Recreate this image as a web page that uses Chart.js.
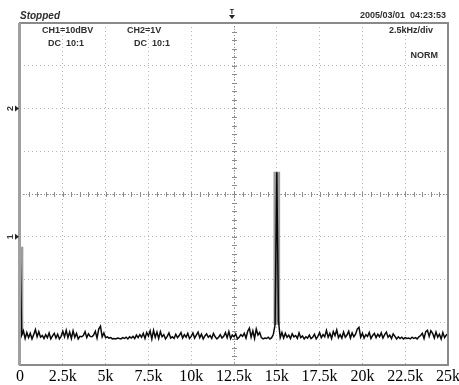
<!DOCTYPE html>
<html>
<head>
<meta charset="utf-8">
<script src="https://cdn.jsdelivr.net/npm/chart.js@4/dist/chart.umd.min.js"></script>
<style>
  html, body { margin: 0; padding: 0; background: #fff; }
  #wrap { width: 459px; height: 385px; position: relative; }
</style>
</head>
<body>
<div id="wrap"><canvas id="c" width="459" height="385"></canvas></div>
<script>
// FFT of CH1, 100 Hz per bin, level in dBV (10 dB per division)
const BIN_HZ = 100;
const spectrumDb = [
  -2.4,
  -23.0, -22.0, -23.8, -22.4, -23.6, -22.6, -23.9, -22.9, -21.7, -23.4,
  -22.2, -23.5, -23.1, -23.8, -22.9, -23.6, -22.5, -23.9, -23.2, -22.6,
  -23.7, -22.8, -23.9, -23.3, -22.1, -23.4, -21.9, -23.6, -22.3, -23.8,
  -22.0, -23.5, -22.6, -23.9, -23.3, -23.4, -23.1, -22.2, -23.6, -22.7,
  -23.3, -23.4, -23.0, -22.1, -23.7, -21.6, -20.9, -23.4, -22.5, -23.6,
  -23.4, -23.7, -23.6, -23.9, -23.8, -23.9, -23.7, -23.8, -23.9, -23.6,
  -23.8, -23.5, -23.9, -23.4, -23.7, -23.3, -23.8, -23.0, -23.6, -22.9,
  -23.5, -22.6, -23.8, -22.4, -23.2, -22.0, -23.9, -21.9, -23.5, -22.3,
  -23.8, -22.2, -23.4, -22.9, -23.9, -23.3, -22.5, -23.7, -23.4, -23.8,
  -22.8, -23.6, -23.1, -22.4, -23.7, -22.9, -23.5, -22.6, -23.8, -23.3,
  -22.5, -23.7, -23.0, -22.3, -23.6, -22.8, -23.9, -23.2, -22.7, -23.5,
  -23.1, -23.8, -22.6, -23.4, -23.9, -23.5, -22.9, -23.7, -23.3, -22.4,
  -23.6, -22.2, -23.8, -23.0, -23.4, -22.7, -23.9, -23.5, -22.9, -23.3,
  -22.6, -23.7, -22.1, -21.4, -23.5, -22.0, -23.8, -21.6, -23.0, -22.4,
  -23.6, -23.9, -23.7, -23.8, -23.5, -23.9, -23.6, -22.8, -20.5, 15.1,
  -19.8, -23.6, -22.4, -23.7, -22.6, -23.5, -23.0, -23.8, -22.7, -23.4,
  -23.1, -23.8, -22.5, -23.6, -23.2, -23.9, -23.4, -23.7, -23.0, -23.8,
  -23.5, -22.8, -23.9, -23.3, -22.4, -23.6, -22.9, -23.4, -21.9, -23.5,
  -22.6, -23.8, -22.2, -23.1, -21.8, -23.6, -22.9, -23.7, -22.3, -23.5,
  -23.0, -22.1, -23.7, -22.5, -23.4, -22.8, -21.6, -21.2, -23.5, -22.6,
  -23.7, -22.9, -23.3, -22.4, -23.8, -23.1, -22.6, -23.6, -22.8, -23.4,
  -22.5, -23.7, -22.9, -22.3, -23.5, -23.0, -23.8, -22.7, -23.3, -23.9,
  -23.4, -23.8, -23.5, -23.9, -23.6, -23.8, -23.7, -23.9, -23.5, -23.8,
  -23.6, -23.9, -23.4, -23.1, -22.6, -23.8, -22.2, -21.9, -23.3, -22.0,
  -22.6, -23.7, -22.3, -23.5, -22.8, -23.9, -22.4, -23.6, -23.0, -22.7
];

// The two tones: DC and 15 kHz (top level and the floor they rise from)
const toneFreqs = [0, 15000];
const toneTopDb = [-2.4, 15.1];
const toneBaseDb = [-23.0, -20.5];

// Horizontal axis: 2.5 kHz per division
const freqTicks = [0, 2500, 5000, 7500, 10000, 12500, 15000, 17500, 20000, 22500, 25000];
const freqTickLabels = ['0', '2.5k', '5k', '7.5k', '10k', '12.5k', '15k', '17.5k', '20k', '22.5k', '25k'];

// Vertical axis: 8 divisions of 10 dB
const levelMin = -30;
const levelMax = 50;
const levelStep = 10;

const traceData = spectrumDb.map((db, i) => ({ x: i * BIN_HZ, y: db }));
const toneData = toneFreqs.map((f, i) => ({ x: f, y: [toneBaseDb[i], toneTopDb[i]] }));

const SANS = '"Liberation Sans", Arial, sans-serif';

// Scope graticule: frame, centre axes with minor ticks, readouts and markers
const scopeScreen = {
  id: 'scopeScreen',
  beforeDatasetsDraw(chart) {
    const { ctx, chartArea: a, scales: { x, y } } = chart;
    const cx = x.getPixelForValue(12500);
    const cy = y.getPixelForValue(10);
    const divX = x.getPixelForValue(2500) - x.getPixelForValue(0);
    const divY = y.getPixelForValue(0) - y.getPixelForValue(10);
    ctx.save();
    ctx.strokeStyle = '#8c8c8c';
    ctx.lineWidth = 1;
    ctx.setLineDash([1, 2]);
    ctx.beginPath();
    ctx.moveTo(a.left, Math.round(cy) + 0.5); ctx.lineTo(a.right, Math.round(cy) + 0.5);
    ctx.moveTo(Math.round(cx) + 0.5, a.top); ctx.lineTo(Math.round(cx) + 0.5, a.bottom);
    ctx.stroke();
    ctx.setLineDash([]);
    ctx.beginPath();
    for (let px = a.left; px <= a.right + 0.5; px += divX / 5) {
      const rx = Math.round(px) + 0.5;
      ctx.moveTo(rx, Math.round(cy) - 2); ctx.lineTo(rx, Math.round(cy) + 3);
    }
    for (let py = a.top; py <= a.bottom + 0.5; py += divY / 5) {
      const ry = Math.round(py) + 0.5;
      ctx.moveTo(Math.round(cx) - 2, ry); ctx.lineTo(Math.round(cx) + 3, ry);
    }
    ctx.stroke();
    ctx.restore();
  },
  afterDraw(chart) {
    const { ctx, chartArea: a, scales: { y } } = chart;
    ctx.save();
    // frame
    ctx.strokeStyle = '#8a8a8a';
    ctx.lineWidth = 2;
    ctx.strokeRect(a.left, a.top, a.right - a.left, a.bottom - a.top);
    ctx.fillStyle = '#a0a0a0';
    ctx.fillRect(a.left - 2, a.top, 3, a.bottom - a.top);

    // readouts
    ctx.fillStyle = '#2e2e2e';
    ctx.textBaseline = 'middle';
    ctx.font = 'italic bold 10px ' + SANS;
    ctx.textAlign = 'left';
    ctx.fillText('Stopped', 20, 16);
    ctx.font = 'bold 9px ' + SANS;
    ctx.fillText('CH1=10dBV', 42, 31);
    ctx.fillText('DC  10:1', 48, 44);
    ctx.fillText('CH2=1V', 127, 31);
    ctx.fillText('DC  10:1', 134, 44);
    ctx.textAlign = 'right';
    ctx.fillText('2005/03/01  04:23:53', 446, 16);
    ctx.fillText('2.5kHz/div', 433, 31);
    ctx.fillText('NORM', 438, 56);

    // channel reference markers on the left edge
    const drawMarker = (label, level) => {
      const my = y.getPixelForValue(level);
      ctx.save();
      ctx.translate(11, my);
      ctx.rotate(-Math.PI / 2);
      ctx.textAlign = 'center';
      ctx.font = 'bold 9px ' + SANS;
      ctx.fillStyle = '#333';
      ctx.fillText(label, 0, 0);
      ctx.restore();
      ctx.fillStyle = '#222';
      ctx.beginPath();
      ctx.moveTo(15, my - 3); ctx.lineTo(19, my); ctx.lineTo(15, my + 3);
      ctx.closePath();
      ctx.fill();
    };
    drawMarker('1', 0);
    drawMarker('2', 30);

    // trigger position marker above the centre line
    const tx = chart.scales.x.getPixelForValue(12500) - 2;
    ctx.fillStyle = '#222';
    ctx.font = 'bold 7px ' + SANS;
    ctx.textAlign = 'center';
    ctx.fillText('T', tx, 12);
    ctx.beginPath();
    ctx.moveTo(tx - 3, 15); ctx.lineTo(tx + 3, 15); ctx.lineTo(tx, 19);
    ctx.closePath();
    ctx.fill();
    ctx.restore();
  }
};

new Chart(document.getElementById('c'), {
  type: 'line',
  data: {
    datasets: [
      {
        type: 'bar',
        label: 'tones',
        data: toneData,
        backgroundColor: '#9c9c9c',
        borderWidth: 0,
        barThickness: 6,
        order: 2
      },
      {
        label: 'CH1 FFT',
        data: traceData,
        borderColor: '#0a0a0a',
        borderWidth: 1.5,
        pointRadius: 0,
        tension: 0,
        fill: false,
        order: 1
      }
    ]
  },
  plugins: [scopeScreen],
  options: {
    responsive: false,
    animation: false,
    devicePixelRatio: 1,
    layout: { padding: { left: 20, right: 11, top: 23, bottom: 0 } },
    plugins: { legend: { display: false }, tooltip: { enabled: false } },
    scales: {
      x: {
        type: 'linear',
        offset: false,
        min: 0,
        max: 25000,
        afterBuildTicks: (s) => { s.ticks = freqTicks.map(v => ({ value: v })); },
        afterFit: (s) => { s.height = 20; s.paddingLeft = 0; s.paddingRight = 0; },
        ticks: {
          autoSkip: false,
          maxRotation: 0,
          padding: 2,
          color: '#000',
          font: { family: '"Liberation Serif", "Times New Roman", serif', size: 16 },
          callback: (v) => {
            const i = freqTicks.indexOf(v);
            return i >= 0 ? freqTickLabels[i] : '';
          }
        },
        grid: { offset: false, color: '#b4b4b4', drawTicks: false, lineWidth: 1 },
        border: { display: false, dash: [1, 3] }
      },
      y: {
        min: levelMin,
        max: levelMax,
        ticks: { stepSize: levelStep, display: false },
        afterFit: (s) => { s.width = 0; },
        grid: { color: '#b4b4b4', drawTicks: false, lineWidth: 1 },
        border: { display: false, dash: [1, 3] }
      }
    }
  }
});
</script>
</body>
</html>
